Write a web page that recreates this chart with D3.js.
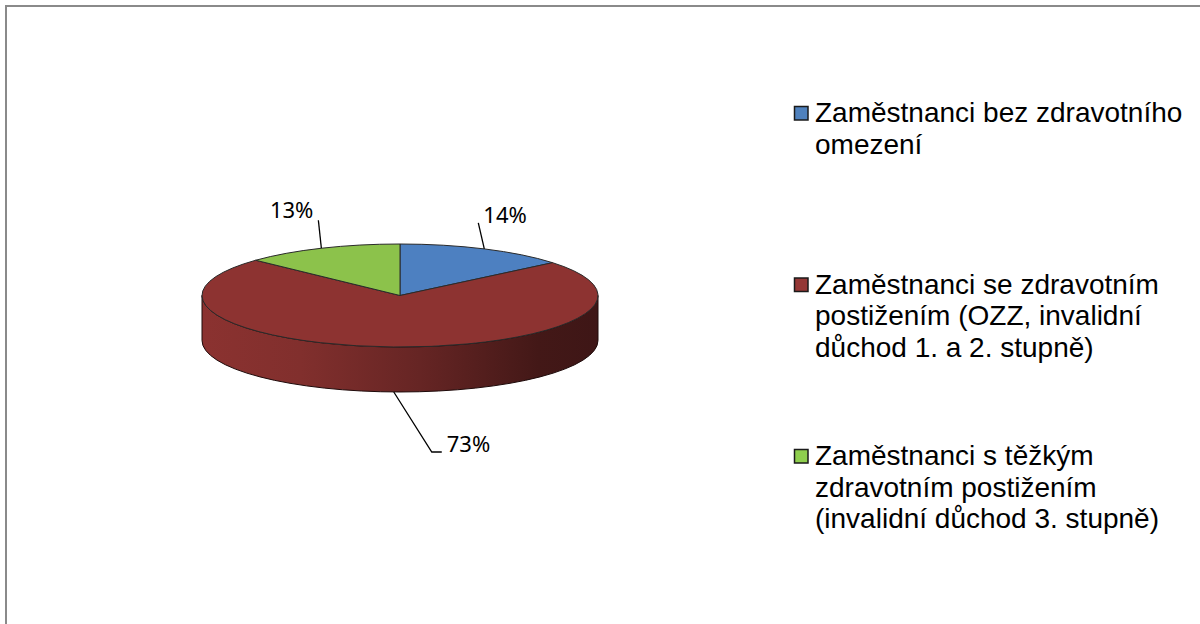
<!DOCTYPE html>
<html>
<head>
<meta charset="utf-8">
<script src="https://cdn.jsdelivr.net/npm/d3@7"></script>
<style>
  html, body { margin: 0; padding: 0; background: #fff; }
  svg { display: block; }
</style>
</head>
<body>
<svg id="chart" width="1200" height="624"></svg>
<script>
'use strict';

// data
var categories = [
  'Zaměstnanci bez zdravotního omezení',
  'Zaměstnanci se zdravotním postižením (OZZ, invalidní důchod 1. a 2. stupně)',
  'Zaměstnanci s těžkým zdravotním postižením (invalidní důchod 3. stupně)'
];
var legendLines = [
  ['Zaměstnanci bez zdravotního', 'omezení'],
  ['Zaměstnanci se zdravotním', 'postižením (OZZ, invalidní', 'důchod 1. a 2. stupně)'],
  ['Zaměstnanci s těžkým', 'zdravotním postižením', '(invalidní důchod 3. stupně)']
];
var values = [14, 73, 13];
var valueLabels = ['14%', '73%', '13%'];

var topColors = ['#4d80c1', '#8d3331', '#8cc24b'];
var legendColors = ['#4f81bd', '#953735', '#8fcf4e'];

// layout
var cx = 400, cy = 295.5, rx = 198, ry = 51.5, depth = 45;
// leader line offsets (from slice edge) and label side
var leaders = [
  {pts: [[-6, -26]], anchor: 'start', tx: 5, ty: 0},
  {pts: [[38, 60], [48, 60]], anchor: 'start', tx: 5, ty: 0},
  {pts: [[-3, -28]], anchor: 'end', tx: -5, ty: -2}
];

var svg = d3.select('#chart');

// outer frame
svg.append('rect')
  .attr('x', 6).attr('y', 6)
  .attr('width', 1300).attr('height', 700)
  .attr('fill', 'none')
  .attr('stroke', '#8a8a8a')
  .attr('stroke-width', 2);

var defs = svg.append('defs');

var pie = d3.pie().sort(null).value(function (d) { return d; });
var arcs = pie(values);

function pt(a, dy) {
  return [cx + rx * Math.sin(a), cy - ry * Math.cos(a) + (dy || 0)];
}

// side gradients
arcs.forEach(function (d, i) {
  var c = d3.color(topColors[i]);
  var g = defs.append('linearGradient')
    .attr('id', 'side' + i)
    .attr('gradientUnits', 'userSpaceOnUse')
    .attr('x1', cx - rx).attr('x2', cx + rx)
    .attr('y1', 0).attr('y2', 0);
  g.append('stop').attr('offset', 0).attr('stop-color', c.darker(0.05));
  g.append('stop').attr('offset', 0.25).attr('stop-color', c.darker(0.25));
  g.append('stop').attr('offset', 0.55).attr('stop-color', c.darker(0.9));
  g.append('stop').attr('offset', 0.85).attr('stop-color', c.darker(2.1));
  g.append('stop').attr('offset', 1).attr('stop-color', c.darker(2.3));
});

var pieG = svg.append('g');

// front side walls
arcs.forEach(function (d, i) {
  var s = Math.max(d.startAngle, Math.PI / 2);
  var e = Math.min(d.endAngle, 3 * Math.PI / 2);
  if (e <= s) return;
  var t0 = pt(s), t1 = pt(e), b0 = pt(s, depth), b1 = pt(e, depth);
  var large = (e - s) > Math.PI ? 1 : 0;
  var p = 'M' + t0 + 'L' + b0 +
    'A' + rx + ',' + ry + ' 0 ' + large + ' 1 ' + b1 +
    'L' + t1 +
    'A' + rx + ',' + ry + ' 0 ' + large + ' 0 ' + t0 + 'Z';
  pieG.append('path')
    .attr('d', p)
    .attr('fill', 'url(#side' + i + ')')
    .attr('stroke', '#1e0a0a')
    .attr('stroke-width', 1)
    .attr('stroke-linejoin', 'round');
});

// top faces
arcs.forEach(function (d, i) {
  var p0 = pt(d.startAngle), p1 = pt(d.endAngle);
  var large = (d.endAngle - d.startAngle) > Math.PI ? 1 : 0;
  var p = 'M' + cx + ',' + cy + 'L' + p0 +
    'A' + rx + ',' + ry + ' 0 ' + large + ' 1 ' + p1 + 'Z';
  pieG.append('path')
    .attr('d', p)
    .attr('fill', topColors[i])
    .attr('stroke', '#2a2a2a')
    .attr('stroke-width', 1)
    .attr('stroke-linejoin', 'round');
});

// data labels with leader lines
arcs.forEach(function (d, i) {
  var mid = (d.startAngle + d.endAngle) / 2;
  var front = Math.cos(mid) < 0;
  var start = pt(mid, front ? depth : 0);
  var L = leaders[i];
  var pts = [start].concat(L.pts.map(function (o) { return [start[0] + o[0], start[1] + o[1]]; }));
  svg.append('path')
    .attr('d', d3.line()(pts))
    .attr('fill', 'none')
    .attr('stroke', '#000')
    .attr('stroke-width', 1.3);
  var end = pts[pts.length - 1];
  svg.append('text')
    .attr('x', end[0] + L.tx)
    .attr('y', end[1] + L.ty)
    .attr('text-anchor', L.anchor)
    .attr('font-family', '"Noto Sans", "Open Sans", sans-serif')
    .attr('font-size', 22)
    .attr('fill', '#000')
    .text(valueLabels[i]);
});

// legend
var legendY = d3.scaleLinear().domain([0, 1]).range([122, 293.5]);
var legend = svg.append('g')
  .attr('font-family', '"Liberation Sans", Arial, sans-serif')
  .attr('font-size', 28)
  .attr('fill', '#000');

legendLines.forEach(function (lines, i) {
  var y = legendY(i);
  legend.append('rect')
    .attr('x', 794.5).attr('y', y - 15.5)
    .attr('width', 13.5).attr('height', 13.5)
    .attr('fill', legendColors[i])
    .attr('stroke', '#1a1a1a')
    .attr('stroke-width', 1.5);
  var t = legend.append('text')
    .attr('x', 815).attr('y', y);
  t.append('title').text(categories[i]);
  lines.forEach(function (ln, j) {
    t.append('tspan')
      .attr('x', 815)
      .attr('y', y + j * 31.6)
      .text(ln);
  });
});
</script>
</body>
</html>
